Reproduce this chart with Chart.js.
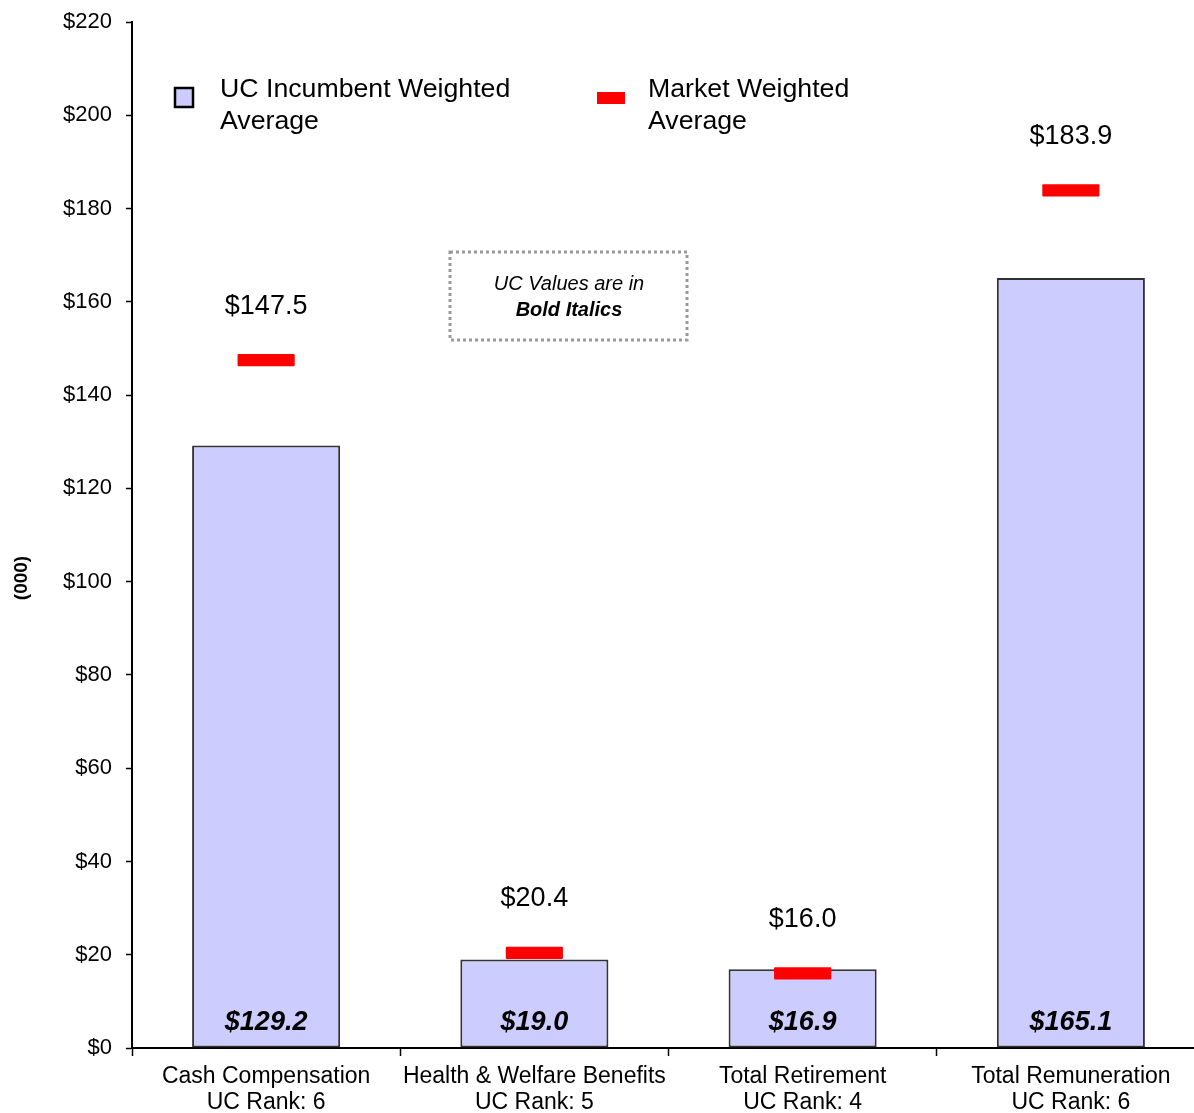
<!DOCTYPE html>
<html>
<head>
<meta charset="utf-8">
<title>UC vs Market Weighted Average</title>
<script src="https://cdn.jsdelivr.net/npm/chart.js@4.4.1/dist/chart.umd.min.js"></script>
<style>
    html, body { margin: 0; padding: 0; background: #fff; overflow: hidden; }
    #wrap { width: 1212px; height: 1113px; }
</style>
</head>
<body>
<div id="wrap"><canvas id="compChart" width="1212" height="1113"></canvas></div>
<script>
// chart values
var categories = [
    ["Cash Compensation", "UC Rank: 6"],
    ["Health & Welfare Benefits", "UC Rank: 5"],
    ["Total Retirement", "UC Rank: 4"],
    ["Total Remuneration", "UC Rank: 6"]
];
var ucValues = [129.2, 19.0, 16.9, 165.1];
var marketValues = [147.5, 20.4, 16.0, 183.9];
var yTicks = [0, 20, 40, 60, 80, 100, 120, 140, 160, 180, 200, 220];

var FONT = "'Liberation Sans', Arial, Helvetica, sans-serif";
var UC_FILL = '#CCCCFF';
var MARKET_RED = '#FF0000';
var MARKER_HALF = 1.3; // half thickness of the market marker, in $000

document.addEventListener('DOMContentLoaded', function () {
    makeCompChart();
});

function makeCompChart() {
    var ctx = document.getElementById('compChart');

    var valueLabels = {
        id: 'valueLabels',
        afterDatasetsDraw: function (chart) {
            var c = chart.ctx;
            var yScale = chart.scales.y;
            c.save();
            c.fillStyle = '#000';
            c.textAlign = 'center';
            c.textBaseline = 'middle';

            // market values above the red markers
            c.font = '27px ' + FONT;
            chart.getDatasetMeta(0).data.forEach(function (el, i) {
                var top = Math.min(el.y, el.base);
                c.fillText('$' + marketValues[i].toFixed(1), el.x, top - 48);
            });

            // UC values at the foot of each bar
            c.font = 'italic bold 27px ' + FONT;
            var zero = yScale.getPixelForValue(0);
            chart.getDatasetMeta(1).data.forEach(function (el, i) {
                c.fillText('$' + ucValues[i].toFixed(1), el.x, zero - 25);
            });
            c.restore();
        }
    };

    var legendAndNote = {
        id: 'legendAndNote',
        afterDraw: function (chart) {
            var c = chart.ctx;
            c.save();

            // y axis title
            c.save();
            c.translate(22, 578);
            c.rotate(-Math.PI / 2);
            c.fillStyle = '#000';
            c.font = 'bold 19px ' + FONT;
            c.textAlign = 'center';
            c.textBaseline = 'middle';
            c.fillText('(000)', 0, 0);
            c.restore();

            // legend
            c.fillStyle = UC_FILL;
            c.fillRect(175, 88, 18, 19);
            c.strokeStyle = '#000';
            c.lineWidth = 2.5;
            c.strokeRect(175, 88, 18, 19);
            c.fillStyle = MARKET_RED;
            c.fillRect(597, 92, 28, 12);

            c.fillStyle = '#000';
            c.font = '26.7px ' + FONT;
            c.textAlign = 'left';
            c.textBaseline = 'middle';
            c.fillText('UC Incumbent Weighted', 220, 90);
            c.fillText('Average', 220, 122);
            c.fillText('Market Weighted', 648, 90);
            c.fillText('Average', 648, 122);

            // note box
            c.strokeStyle = '#999';
            c.lineWidth = 3;
            c.setLineDash([3, 3]);
            c.strokeRect(450, 252, 237, 88);
            c.setLineDash([]);
            c.textAlign = 'center';
            c.font = 'italic 20px ' + FONT;
            c.fillText('UC Values are in', 569, 284);
            c.font = 'italic bold 20px ' + FONT;
            c.fillText('Bold Italics', 569, 310);

            c.restore();
        }
    };

    new Chart(ctx, {
        type: 'bar',
        data: {
            labels: categories,
            datasets: [{
                label: 'Market Weighted Average',
                data: marketValues.map(function (v) { return [v - MARKER_HALF, v + MARKER_HALF]; }),
                backgroundColor: MARKET_RED,
                borderWidth: 0,
                borderRadius: 1,
                borderSkipped: false,
                barPercentage: 0.213,
                categoryPercentage: 1,
                grouped: false,
                order: 0
            }, {
                label: 'UC Incumbent Weighted Average',
                data: ucValues,
                backgroundColor: UC_FILL,
                borderColor: '#333',
                borderWidth: 2,
                borderSkipped: false,
                barPercentage: 0.552,
                categoryPercentage: 1,
                grouped: false,
                order: 1
            }]
        },
        options: {
            responsive: false,
            maintainAspectRatio: false,
            animation: false,
            layout: { padding: { top: 0, right: 7, left: 0, bottom: 0 } },
            plugins: {
                legend: { display: false },
                tooltip: { enabled: false }
            },
            scales: {
                x: {
                    grid: {
                        display: true,
                        offset: true,
                        drawOnChartArea: false,
                        drawTicks: true,
                        tickLength: 8,
                        tickColor: '#000',
                        tickWidth: 1.5
                    },
                    border: { color: '#000', width: 2 },
                    ticks: {
                        color: '#000',
                        autoSkip: false,
                        maxRotation: 0,
                        padding: 7,
                        font: { family: FONT, size: 23, lineHeight: 1.15 }
                    },
                    afterFit: function (scale) { scale.height = 65; }
                },
                y: {
                    min: 0,
                    max: 220,
                    afterBuildTicks: function (scale) {
                        scale.ticks = yTicks.map(function (v) { return { value: v }; });
                    },
                    grid: {
                        display: true,
                        drawOnChartArea: false,
                        drawTicks: true,
                        tickLength: 6,
                        tickColor: '#000',
                        tickWidth: 1.5
                    },
                    border: { color: '#000', width: 2 },
                    ticks: {
                        color: '#000',
                        padding: 14,
                        font: { family: FONT, size: 22, lineHeight: 1.0 },
                        callback: function (v) { return '$' + v; }
                    },
                    afterFit: function (scale) {
                        scale.width = 132;
                        scale.paddingTop = 22;
                    }
                }
            }
        },
        plugins: [valueLabels, legendAndNote]
    });
}
</script>
</body>
</html>
